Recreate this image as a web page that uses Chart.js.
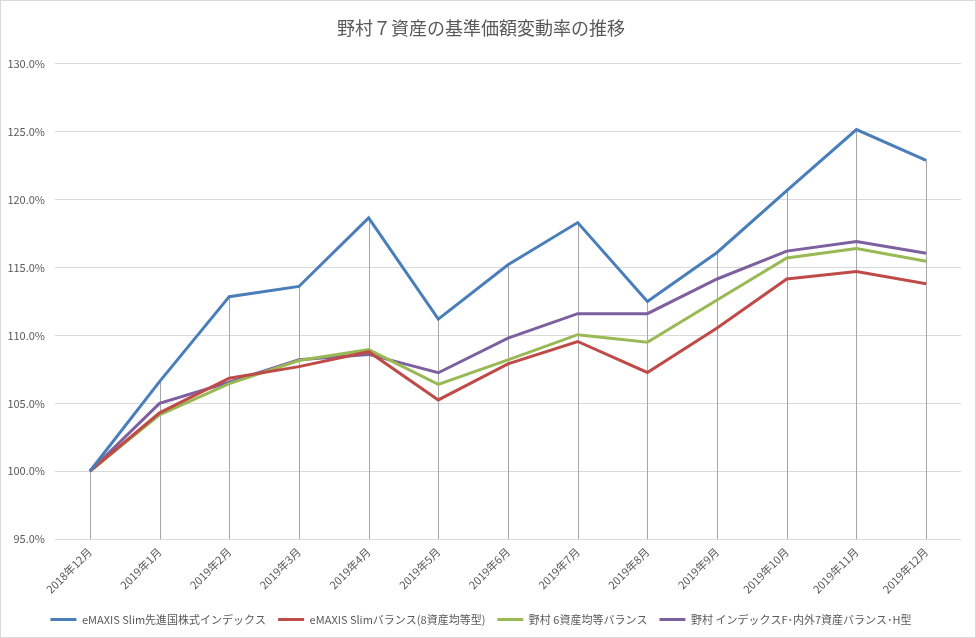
<!DOCTYPE html>
<html>
<head>
<meta charset="utf-8">
<script src="https://cdn.jsdelivr.net/npm/chart.js@4/dist/chart.umd.min.js"></script>
<style>
  html, body { margin: 0; padding: 0; background: #fff; }
  #wrap { position: relative; width: 974px; height: 636px; border: 1px solid #d9d9d9; }
</style>
</head>
<body>
<div id="wrap"><canvas id="chart"></canvas></div>
<script>
const months = ['2018年12月', '2019年1月', '2019年2月', '2019年3月', '2019年4月', '2019年5月', '2019年6月',
  '2019年7月', '2019年8月', '2019年9月', '2019年10月', '2019年11月', '2019年12月'];

const slimKokusai = [100.0, 106.6, 112.85, 113.6, 118.65, 111.2, 115.2, 118.3, 112.5, 116.1, 120.65, 125.15, 122.87];
const slimBalance8 = [100.0, 104.3, 106.85, 107.7, 108.8, 105.25, 107.9, 109.55, 107.27, 110.55, 114.15, 114.7, 113.8];
const nomura6 = [100.0, 104.15, 106.45, 108.15, 108.95, 106.4, 108.2, 110.05, 109.5, 112.6, 115.7, 116.4, 115.45];
const nomura7H = [100.0, 105.0, 106.55, 108.2, 108.6, 107.25, 109.8, 111.6, 111.6, 114.15, 116.2, 116.9, 116.05];

const seriesNames = ['eMAXIS Slim先進国株式インデックス', 'eMAXIS Slimバランス(8資産均等型)',
  '野村 6資産均等バランス', '野村 インデックスF･内外7資産バランス･H型'];

const font = '"Noto Sans CJK JP", "Noto Sans", sans-serif';

// Excel style drop lines: from the highest point at each month down to the axis
const dropLines = {
  id: 'dropLines',
  beforeDatasetsDraw(chart) {
    const ctx = chart.ctx;
    const area = chart.chartArea;
    const y = chart.scales.y;
    const x = chart.scales.x;
    ctx.save();
    ctx.strokeStyle = '#a6a6a6';
    ctx.lineWidth = 1;
    months.forEach((m, i) => {
      const top = Math.max(...chart.data.datasets.map(d => d.data[i]));
      const px = Math.round(x.getPixelForValue(i)) + 0.5;
      ctx.beginPath();
      ctx.moveTo(px, y.getPixelForValue(top));
      ctx.lineTo(px, area.bottom);
      ctx.stroke();
    });
    ctx.restore();
  }
};

function line(label, data, color) {
  return {
    label: label,
    data: data,
    borderColor: color,
    backgroundColor: color,
    borderWidth: 3,
    pointRadius: 0,
    tension: 0,
    fill: false
  };
}

new Chart(document.getElementById('chart').getContext('2d'), {
  type: 'line',
  data: {
    labels: months,
    datasets: [
      line(seriesNames[0], slimKokusai, '#4a7ebb'),
      line(seriesNames[1], slimBalance8, '#be4b48'),
      line(seriesNames[2], nomura6, '#98b954'),
      line(seriesNames[3], nomura7H, '#7d60a0')
    ]
  },
  plugins: [dropLines],
  options: {
    responsive: true,
    maintainAspectRatio: false,
    animation: false,
    devicePixelRatio: 1,
    layout: { padding: { left: 0, right: 14, top: 4, bottom: 2 } },
    scales: {
      x: {
        offset: true,
        grid: { display: false, drawTicks: false },
        border: { display: false },
        ticks: {
          minRotation: 45, maxRotation: 45, autoSkip: false, padding: 6,
          color: '#595959', font: { family: font, size: 11 }
        }
      },
      y: {
        min: 95, max: 130,
        grid: { color: '#d9d9d9', drawTicks: false },
        border: { display: false },
        afterFit: s => { s.width = 54; },
        ticks: {
          stepSize: 5, padding: 10,
          color: '#595959', font: { family: font, size: 11 },
          callback: v => v.toFixed(1) + '%'
        }
      }
    },
    plugins: {
      title: {
        display: true,
        text: '野村７資産の基準価額変動率の推移',
        color: '#595959',
        font: { family: font, size: 18, weight: 'normal' },
        padding: { top: 12, bottom: 25 }
      },
      legend: {
        position: 'bottom',
        labels: {
          color: '#595959',
          font: { family: font, size: 11 },
          usePointStyle: true,
          pointStyle: 'line',
          pointStyleWidth: 26,
          padding: 12
        }
      },
      tooltip: { enabled: false }
    }
  }
});
</script>
</body>
</html>
